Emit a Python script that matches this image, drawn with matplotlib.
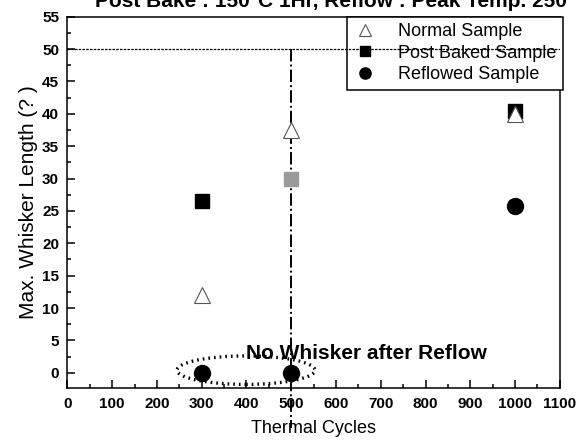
import matplotlib
matplotlib.use('Agg')
import matplotlib.pyplot as plt
from matplotlib.patches import Ellipse
from matplotlib.ticker import MultipleLocator

plt.rcParams['font.family'] = ['Liberation Sans', 'DejaVu Sans']

# data
cycles = [300, 500, 1000]
normal = [12.0, 37.5, 40.0]
post_baked = [26.5, 30.0, 40.5]
reflowed = [0.0, 0.0, 25.8]

title = 'Post Bake : 150\u00b0C 1Hr, Reflow : Peak Temp. 250\u00b0C'
note = 'No Whisker after Reflow'

fig = plt.figure(figsize=(5.76, 4.42), dpi=100)
ax = fig.add_axes([0.117, 0.1215, 0.855, 0.8407])

# squares first, triangles over them
sq_face = ['black', '#9a9a9a', 'black']
for x, y, fc in zip(cycles, post_baked, sq_face):
    ax.plot(x, y, 's', ms=10, mfc=fc, mec=fc, zorder=3)
ax.plot([], [], 's', ms=10, color='black', label='Post Baked Sample')

ax.plot(cycles, normal, '^', ms=12, mfc='white', mec='#555555', mew=0.8,
        linestyle='none', zorder=4, label='Normal Sample')
ax.plot(cycles, reflowed, 'o', ms=11.5, color='black', linestyle='none',
        zorder=4, label='Reflowed Sample')

# reference lines
ax.axhline(50, color='black', lw=0.9, ls=(0, (2, 1)), zorder=6)
ax.plot([500, 500], [50, -8.5], color='black', lw=1.4, ls='-.',
        clip_on=False, zorder=2)

ax.add_patch(Ellipse((399, 0.4), 308, 4.4, fill=False, ec='black',
                     lw=2.4, ls=(0, (0.5, 1.2)), zorder=5))
ax.text(400, 2.2, note, fontsize=15, fontweight='bold', ha='left',
        va='baseline', zorder=7)

ax.set_xlim(0, 1100)
ax.set_ylim(-2.4, 55)
ax.xaxis.set_major_locator(MultipleLocator(100))
ax.xaxis.set_minor_locator(MultipleLocator(50))
ax.yaxis.set_major_locator(MultipleLocator(5))
ax.yaxis.set_minor_locator(MultipleLocator(2.5))
ax.tick_params(which='both', direction='in', top=False, right=False,
               width=1.1)
ax.tick_params(which='major', length=5.5, pad=6, labelsize=11)
ax.tick_params(which='minor', length=3)
for lab in ax.get_xticklabels() + ax.get_yticklabels():
    lab.set_fontweight('bold')
for sp in ax.spines.values():
    sp.set_linewidth(1.1)

ax.set_xlabel('Thermal Cycles', fontsize=13, labelpad=7)
ax.set_ylabel('Max. Whisker Length (? )', fontsize=15, labelpad=3)

h, l = ax.get_legend_handles_labels()
order = [1, 0, 2]
leg = ax.legend([h[i] for i in order], [l[i] for i in order],
                loc='upper right', bbox_to_anchor=(1.006, 1.0),
                fontsize=13, markerscale=0.7, frameon=True, fancybox=False,
                framealpha=1, edgecolor='black', borderaxespad=0,
                labelspacing=0.26, borderpad=0.35, handletextpad=1.2,
                handlelength=1.3)
leg.get_frame().set_linewidth(1.1)
leg.set_zorder(5)

fig.text(95 / 576, 1 - 7.3 / 442, title, fontsize=15, fontweight='bold',
         ha='left', va='baseline')

fig.savefig('out.png', dpi=100)
